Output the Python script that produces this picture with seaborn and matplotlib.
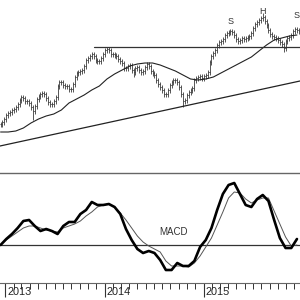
import numpy as np
import pandas as pd
import matplotlib
matplotlib.use("Agg")
import matplotlib.pyplot as plt
import matplotlib.dates as mdates
from matplotlib.ticker import NullFormatter
import seaborn as sns

# weekly closes
close = [76, 78, 81, 85, 87, 88, 90, 91, 93, 96,
         100, 103, 102, 99, 99, 97, 93, 89, 94, 101,
         104, 106, 107, 106, 102, 98, 96, 96, 99, 103,
         114, 118, 118, 115, 114, 114, 111, 111, 116, 123,
         127, 128, 129, 130, 134, 140, 142, 144, 146, 144,
         140, 139, 139, 142, 146, 150, 151, 150, 146, 146,
         145, 144, 141, 139, 137, 132, 132, 134, 135, 130,
         128, 132, 133, 130, 128, 129, 133, 136, 134, 129,
         127, 125, 120, 116, 113, 110, 106, 106, 110, 115,
         118, 120, 120, 118, 113, 106, 99, 100, 105, 108,
         110, 112, 120, 122, 123, 124, 122, 124, 125, 128,
         138, 144, 147, 150, 155, 158, 159, 161, 165, 167,
         168, 169, 168, 165, 161, 159, 160, 162, 161, 162,
         163, 164, 167, 172, 176, 178, 180, 182, 183, 179,
         175, 170, 166, 164, 163, 162, 160, 158, 156, 152,
         159, 162, 163, 165, 169, 171, 170, 169]
low_spikes = {17: 80, 70: 123, 96: 93, 149: 148}
high_spikes = {138: 187}

# moving average, every 4 weeks
ma_vals = [68, 68, 69, 72, 77, 81, 84, 86, 90, 97, 101, 105, 110, 114, 121, 126,
           130, 134, 136, 137, 137, 135, 132, 129, 125, 121, 120, 121, 123, 127,
           131, 135, 139, 143, 149, 155, 160, 162, 164, 165]

# MACD and signal, every 3 weeks
macd_vals = [0, 6, 11, 17, 24, 25, 19, 14, 16, 14, 11, 19, 23, 23, 31, 35, 43, 40,
             40, 41, 38, 31, 16, 5, -4, -8, -6, -8, -15, -25, -25, -18, -21, -21,
             -16, -2, 5, 17, 35, 51, 60, 62, 51, 40, 38, 46, 50, 44, 25, 7, -3, -3, 6]
signal_vals = [0, 5, 9, 13, 17, 19, 19, 17, 15, 14, 13, 17, 19, 21, 24, 29, 33, 38,
               40, 41, 38, 32, 25, 17, 9, 3, -1, -4, -7, -16, -21, -21, -21, -22,
               -18, -11, -2, 7, 20, 33, 47, 53, 52, 46, 42, 45, 47, 47, 34, 21, 8, -1, 0]

trend_vals = [54, 119]
resist_val = 153
resist_start = 49
years = [2013, 2014, 2015]

weeks = pd.date_range("2012-12-14", periods=len(close), freq="7D")
wk = pd.Timedelta(days=7)
x0 = weeks[0] - 0.3 * wk
x1 = weeks[-1] + 0.6 * wk

sns.set_style("white")
plt.rcParams["font.family"] = ["Liberation Sans", "DejaVu Sans"]

fig = plt.figure(figsize=(3, 3), dpi=100)
ax1 = fig.add_axes([0, 1 - 173 / 300, 1, 173 / 300])
ax2 = fig.add_axes([0, 1 - 283 / 300, 1, 110 / 300])

# price bars
cl = np.array(close, dtype=float)
op = np.r_[cl[0], cl[:-1]]
hi = np.maximum(op, cl) + 2.5
lo = np.minimum(op, cl) - 2.5
for i, v in low_spikes.items():
    lo[i] = v
for i, v in high_spikes.items():
    hi[i] = v
bar_col = "#3a3a3a"
ax1.vlines(weeks, lo, hi, color=bar_col, lw=0.6)
ax1.hlines(cl, weeks, weeks + 0.5 * wk, color=bar_col, lw=0.6)
ax1.hlines(op, weeks - 0.5 * wk, weeks, color=bar_col, lw=0.6)

sns.lineplot(x=weeks[::4], y=ma_vals, ax=ax1, color="#222222", lw=0.8)
sns.lineplot(x=[x0, x1], y=trend_vals, ax=ax1, color="#222222", lw=0.9)
sns.lineplot(x=[weeks[resist_start], x1], y=[resist_val, resist_val], ax=ax1,
             color="#333333", lw=0.9)

ax1.text(weeks[121], 178, "S", ha="center", va="center", fontsize=6.5, color="#333")
ax1.text(weeks[138], 189, "H", ha="center", va="center", fontsize=6.5, color="#333")
ax1.text(weeks[156], 184, "S", ha="center", va="center", fontsize=6.5, color="#333",
         clip_on=False)

ax1.set_xlim(x0, x1)
ax1.set_ylim(27, 200)
ax1.set_xticks([])
ax1.set_yticks([])
for s in ax1.spines.values():
    s.set_visible(False)

# MACD panel
sns.lineplot(x=[x0, x1], y=[0, 0], ax=ax2, color="#333333", lw=0.9)
sns.lineplot(x=weeks[::3], y=signal_vals, ax=ax2, color="#555555", lw=0.7)
sns.lineplot(x=weeks[::3], y=macd_vals, ax=ax2, color="black", lw=1.9)
ax2.text(weeks[91], 13, "MACD", ha="center", va="center", fontsize=7, color="#333")

ax2.set_xlim(x0, x1)
ax2.set_ylim(-38, 72)
ax2.set_yticks([])
for side in ["left", "right"]:
    ax2.spines[side].set_visible(False)
ax2.spines["top"].set_color("#666666")
ax2.spines["top"].set_linewidth(1.0)
ax2.spines["bottom"].set_color("#666666")
ax2.spines["bottom"].set_linewidth(0.8)

ax2.xaxis.set_major_locator(mdates.YearLocator())
ax2.xaxis.set_minor_locator(mdates.MonthLocator())
ax2.xaxis.set_major_formatter(NullFormatter())
ax2.tick_params(axis="x", which="both", bottom=True, direction="out")
ax2.tick_params(axis="x", which="major", length=10, width=0.8, color="#333")
ax2.tick_params(axis="x", which="minor", length=4, width=0.7, color="#333")
for yr in years:
    ax2.annotate(str(yr), xy=(pd.Timestamp(f"{yr}-01-01"), 0),
                 xycoords=("data", "axes fraction"), xytext=(1.2, -2.6),
                 textcoords="offset points", ha="left", va="top",
                 fontsize=7.8, color="#222")

fig.savefig("out.png", dpi=100)
